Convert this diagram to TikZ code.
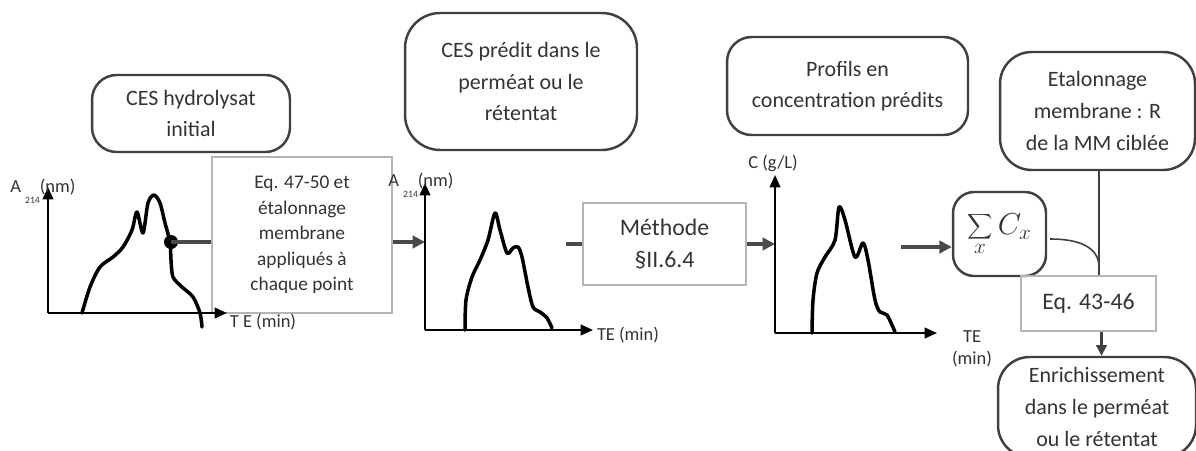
\documentclass[tikz,border=0pt]{standalone}
\usepackage{fontspec}
\setmainfont{Carlito}
\usetikzlibrary{arrows.meta,positioning}
\definecolor{boxline}{HTML}{404040}
\definecolor{rectline}{HTML}{B4B4B4}
\definecolor{txt}{HTML}{333333}
\definecolor{linkc}{HTML}{4A4A4A}

\begin{document}
\begin{tikzpicture}[x=0.02cm,y=-0.02cm,
  rbox/.style={draw=boxline,line width=1.4pt,rounded corners=14pt,align=center,text=txt,font=\fontsize{12.5}{18}\selectfont,inner sep=2pt},
  sbox/.style={draw=rectline,line width=0.7pt,align=center,text=txt,inner sep=2pt},
  axis/.style={line width=1.2pt,-{Triangle[length=7pt,width=6pt]}},
  curve/.style={line width=2pt,line join=round,line cap=round},
  link/.style={draw=linkc,line width=1.8pt},
  flow/.style={link,-{Triangle[length=7pt,width=7pt]}},
  thinlink/.style={draw=boxline,line width=0.9pt},
  lab/.style={text=txt,font=\fontsize{10.5}{12}\selectfont,inner sep=0pt}]
\useasboundingbox (0,0) rectangle (1196,450);
\clip (0,0) rectangle (1196,450);

% boxes
\node[rbox,minimum width=3.96cm,minimum height=1.54cm] (ces) at (191,113.5) {CES hydrolysat\\initial};
\node[sbox,minimum width=3.6cm,minimum height=3.12cm,font=\fontsize{11}{14.5}\selectfont] (eqa) at (302,235)
  {Eq. 47-50 et\\étalonnage\\membrane\\appliqués à\\chaque point};
\node[rbox,minimum width=4.64cm,minimum height=2.74cm,rounded corners=20pt] (pred) at (521,81.5) {CES prédit dans le\\perméat ou le\\rétentat};
\node[sbox,minimum width=3.26cm,minimum height=1.64cm,font=\fontsize{13.5}{18}\selectfont] (meth) at (664.5,244) {Méthode\\§II.6.4};
\node[rbox,minimum width=4.82cm,minimum height=1.96cm] (prof) at (847.5,86) {Profils en\\concentration prédits};
\node[rbox,minimum width=1.86cm,minimum height=1.68cm,rounded corners=12pt,font=\fontsize{18}{20}\selectfont] (sum) at (999.5,234) {$\displaystyle\sum_{x} C_{x}$};
\node[rbox,minimum width=3.9cm,minimum height=2.36cm,rounded corners=18pt] (etal) at (1097.5,111) {Etalonnage\\membrane : R\\de la MM ciblée};
\node[sbox,minimum width=2.7cm,minimum height=1.1cm,font=\fontsize{13.5}{18}\selectfont] (eqb) at (1088.5,303.5) {Eq. 43-46};
\node[rbox,minimum width=3.96cm,minimum height=2cm,rounded corners=18pt] (enr) at (1097,407) {Enrichissement\\dans le perméat\\ou le rétentat};

% axes
\coordinate (o1) at (48,313);
\coordinate (o2) at (425,330);
\coordinate (o3) at (775,333);
\draw[axis] (o1) -- (48,187);
\draw[axis] (o1) -- (227,313);
\draw[axis] (o2) -- (425,183);
\draw[axis] (o2) -- (593,330);
\draw[axis] (o3) -- (775,175);
\draw[axis] (o3) -- (937,333);

\node[lab,anchor=base west] (ya1) at (10,192) {A \raisebox{-1.3ex}{\fontsize{5.5}{6}\selectfont 214}(nm)};
\node[lab,anchor=base west] (ya2) at (388,186) {A \raisebox{-1.3ex}{\fontsize{5.5}{6}\selectfont 214}(nm)};
\node[lab] (xa1) at (263,322) {T E (min)};
\node[lab] (xa2) at (628,335) {TE (min)};
\node[lab] (ya3) at (773,163) {C (g/L)};
\node[lab,align=center,font=\fontsize{10.5}{12.5}\selectfont] (xa3) at (972,349) {TE\\(min)};

% chromatograms
\draw[curve] plot[smooth,tension=0.5] coordinates {(82,313) (90,287) (100,267) (113,257) (123,247) (132,230) (137,212)
  (143,233) (148,203) (154,195) (160,203) (165,223) (170,242) (171,260) (173,277) (182,287) (193,297) (200,313) (202,327)};
\draw[curve] plot[smooth,tension=0.5] coordinates {(465,330) (466,300) (472,277) (480,260) (488,240) (495,213) (500,230)
  (507,253) (513,248) (518,247) (522,257) (528,287) (533,307) (540,312) (547,318) (552,328)};
\draw[curve] plot[smooth,tension=0.5] coordinates {(812,333) (813,300) (817,273) (825,257) (835,240) (839,207) (845,220)
  (855,257) (863,243) (868,260) (875,300) (880,312) (887,315) (895,332)};

% links
\fill (171,242) circle (7) coordinate (dot);
\draw[link] (dot) -- (dot -| eqa.west);
\draw[flow] (dot -| eqa.east) -- (dot -| o2);
\draw[link] ([xshift=-0.32cm]meth.west) -- (meth.west);
\draw[flow] (meth.east) -- (meth.east -| o3);
\coordinate (sin) at (901,247);
\draw[flow] (sin) -- (sin -| sum.west);
\coordinate (hook) at (1099,265);
\draw[thinlink] (1050,239) to[out=0,in=95] (hook);
\draw[thinlink,line width=1.2pt] (etal.south -| hook) -- (hook |- eqb.north);
\draw[thinlink,line width=1.2pt,-{Triangle[length=6pt,width=6pt]}] ([xshift=0.05cm]hook |- eqb.south) -- ([xshift=0.05cm]hook |- enr.north);
\end{tikzpicture}
\end{document}
